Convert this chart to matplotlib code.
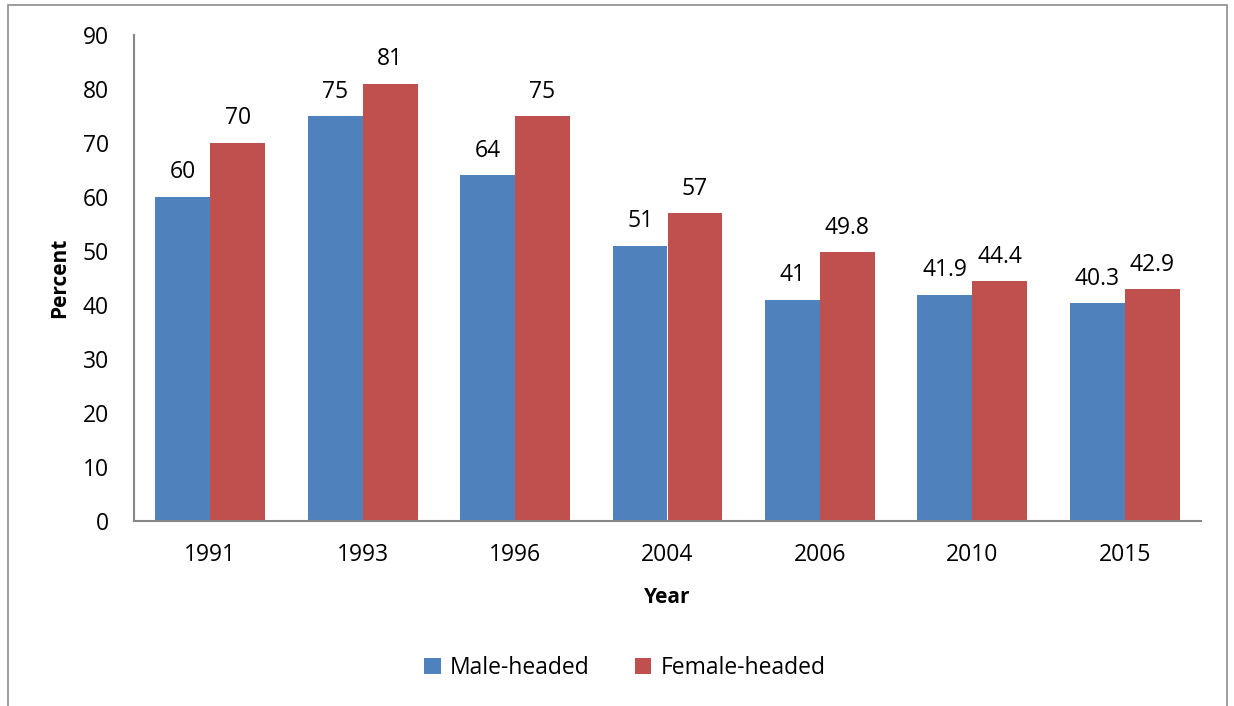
import numpy as np
import matplotlib.pyplot as plt
from matplotlib.patches import Rectangle

years = ['1991', '1993', '1996', '2004', '2006', '2010', '2015']
male = [60, 75, 64, 51, 41, 41.9, 40.3]
female = [70, 81, 75, 57, 49.8, 44.4, 42.9]

plt.rcParams['font.family'] = ['Open Sans', 'DejaVu Sans']

fig = plt.figure(figsize=(12.34, 7.06), dpi=100)
ax = fig.add_axes([134/1234, 1 - 521/706, (1201 - 134)/1234, (521 - 35)/706])

x = np.arange(len(years))
w = 0.36
b1 = ax.bar(x - w/2, male, w, color='#4F81BD', label='Male-headed')
b2 = ax.bar(x + w/2, female, w, color='#C0504D', label='Female-headed')

for bars, vals in ((b1, male), (b2, female)):
    for r, v in zip(bars, vals):
        ax.annotate(f'{v:g}', (r.get_x() + r.get_width()/2, v), xytext=(0, 9),
                    textcoords='offset points', ha='center', va='bottom', fontsize=16.5)

ax.set_xlim(-0.5, len(years) - 0.5)
ax.set_ylim(0, 90)
ax.set_yticks(range(0, 91, 10))
ax.set_xticks(x)
ax.set_xticklabels(years)
ax.tick_params(axis='both', length=0, labelsize=16.5)
ax.tick_params(axis='y', pad=18)
ax.tick_params(axis='x', pad=16)

for s in ('top', 'right'):
    ax.spines[s].set_visible(False)
for s in ('left', 'bottom'):
    ax.spines[s].set_color('#868686')
    ax.spines[s].set_linewidth(1.5)

ax.set_ylabel('Percent', fontsize=15, fontweight='bold', labelpad=9)
ax.set_xlabel('Year', fontsize=15, fontweight='bold', labelpad=14)

fig.legend(loc='center', bbox_to_anchor=(625/1234, 1 - 668/706), ncol=2, frameon=False,
           fontsize=16.5, handlelength=0.7, handleheight=0.7, columnspacing=2.0, handletextpad=0.4)

# chart border
fig.patches.append(Rectangle((8/1234, -0.05), (1227 - 8)/1234, 1.05 - 5/706,
                             transform=fig.transFigure, fill=False,
                             edgecolor='#8c8c8c', linewidth=1.2))

fig.savefig('out.png', dpi=100)
